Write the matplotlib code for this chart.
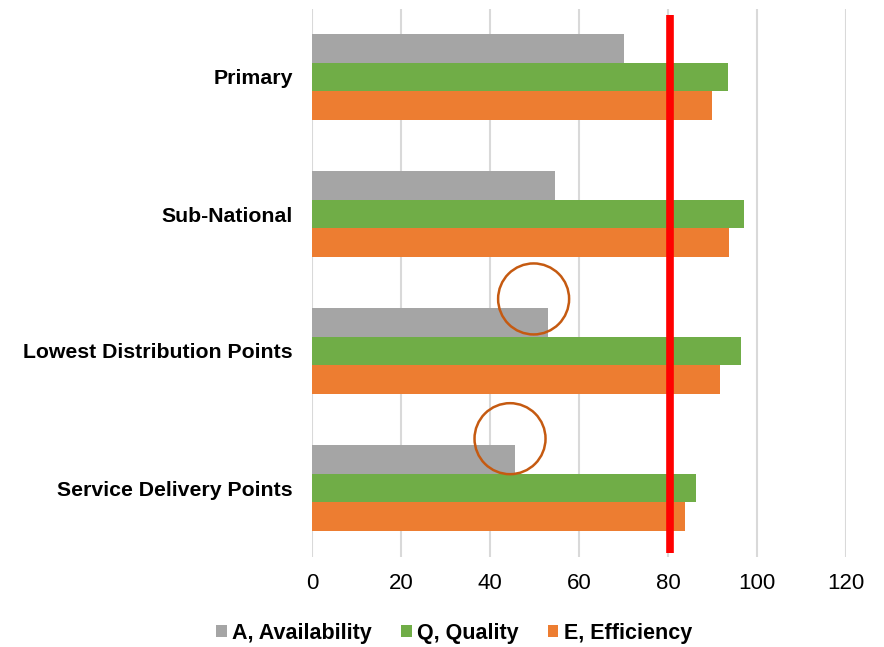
import matplotlib
matplotlib.use("Agg")
import matplotlib.pyplot as plt
from matplotlib.patches import Ellipse
import numpy as np

plt.rcParams['font.family'] = ['Liberation Sans', 'DejaVu Sans']

categories = ["Primary", "Sub-National", "Lowest Distribution Points", "Service Delivery Points"]
availability = [70.2, 54.5, 53.1, 45.6]
quality = [93.4, 97.0, 96.5, 86.4]
efficiency = [89.8, 93.6, 91.7, 83.9]
series_names = ["A, Availability", "Q, Quality", "E, Efficiency"]
colors = ["#A5A5A5", "#70AD47", "#ED7D31"]
target = 80.5
xticks = [0, 20, 40, 60, 80, 100, 120]
# highlight circles (x value, category position)
circle_x = [49.8, 44.5]
circle_y = [1.62, 2.64]

fig = plt.figure(figsize=(8.84, 6.47), dpi=100)
ax = fig.add_axes([312/884, 1-556.5/647, (846-312)/884, (556.5-8.5)/647])

n = len(categories)
y = np.arange(n)
bh = 0.207
for i, (vals, name, c) in enumerate(zip([availability, quality, efficiency], series_names, colors)):
    ax.barh(y + (i - 1) * bh, vals, height=bh, color=c, label=name, zorder=2)

ax.set_xlim(0, 120)
ax.set_ylim(n - 0.5, -0.5)
ax.set_xticks(xticks)
ax.set_xticklabels([str(t) for t in xticks], fontsize=16)
ax.set_yticks(y)
ax.set_yticklabels(categories, fontsize=15.3, fontweight='bold')
ax.tick_params(axis='both', length=0)
ax.tick_params(axis='x', pad=12)
ax.tick_params(axis='y', pad=13.7)
ax.grid(axis='x', color='#D9D9D9', linewidth=1.5, zorder=0)
for s in ax.spines.values():
    s.set_visible(False)

ax.axvline(target, ymin=0.0064, ymax=0.988, color='#FF0000', linewidth=5.5,
           solid_capstyle='butt', zorder=4)

# circles in pixel-equal size
px_per_x = (846 - 312) / 120
px_per_cat = 137
diam_px = 71
for cx, cy in zip(circle_x, circle_y):
    e = Ellipse((cx, cy), width=diam_px / px_per_x, height=diam_px / px_per_cat,
                fill=False, edgecolor='#C55A11', linewidth=1.8, zorder=5)
    ax.add_patch(e)

leg = fig.legend(loc='center', bbox_to_anchor=(454/884, 1-633/647), ncol=3, frameon=False,
                 prop={'size': 15.5, 'weight': 'bold'}, handlelength=0.5, handleheight=0.5,
                 handletextpad=0.25, columnspacing=1.35)

fig.savefig("out.png", dpi=100)
